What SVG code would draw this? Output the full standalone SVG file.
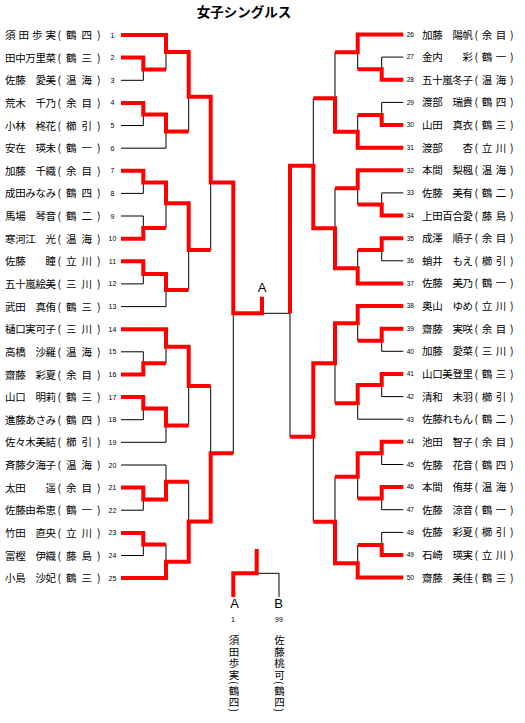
<svg xmlns="http://www.w3.org/2000/svg" width="525" height="723" viewBox="0 0 525 723">
<style>
.nm{font-family:"Noto Sans CJK JP","Noto Sans CJK SC",sans-serif;font-size:10.5px;fill:#000}
.no{font-family:"Liberation Sans",Arial,sans-serif;font-size:7px;fill:#000;text-anchor:middle}
.nr{font-family:"Liberation Sans",Arial,sans-serif;font-size:6.5px;fill:#000;text-anchor:middle}
.ttl{font-family:"Noto Sans CJK JP",sans-serif;font-size:13.5px;font-weight:bold;text-anchor:middle;fill:#000}
.lab{font-family:"Liberation Sans",Arial,sans-serif;font-size:13px;text-anchor:middle;fill:#000}
.vt{font-family:"Noto Sans CJK JP",sans-serif;font-size:10.5px;writing-mode:vertical-rl;letter-spacing:1px;fill:#000}
.r{fill:none;stroke:#f00;stroke-width:4;stroke-linejoin:miter}
.k{fill:none;stroke:#000;stroke-width:1}
</style>
<rect width="525" height="723" fill="#fff"/>
<g id="title"><text class="ttl" x="244" y="17">女子シングルス</text></g>

<g id="connectors">
<path class="k" d="M121,80.3H143.3V69.5 M166,69.5V52 M121,125.5H143.3V114.5 M121,148.2H166V131.5 M188.7,131.5V96.7 M121,193.4H143.3V182.5 M121,216H143.3V228 M166,228V203.3 M121,283.9H143.3V274 M121,306.6H166V290 M188.7,290V250 M210.7,250V182.5 M121,351.8H143.3V363.3 M166,363.3V346.7 M121,419.7H143.3V408.4 M121,442.3H166V425.5 M188.7,425.5V386 M210.7,386V453.3 M121,465H166V481.7 M121,510.2H143.3V499.5 M188.7,481.7V521.5 M121,555.5H143.3V544.5 M166,544.5V561.7 M233.3,453.3V313.3 M290,313.3H262"/>
<path class="k" d="M403.3,57.1H381.7V69.3 M357.7,69.3V52.3 M335,52.3V98.3 M403.3,102.4H381.7V115 M357.7,115V131.7 M313.3,98.3V165.7 M403.3,192.9H381.7V204.5 M357.7,204.5V188.3 M335,188.3V228.3 M403.3,260.8H381.7V250 M357.7,250V268.3 M403.3,351.3H381.7V340.7 M357.7,340.7V323.3 M403.3,396.6H381.7V385 M403.3,419.2H357.7V403.3 M335,403.3V363.3 M403.3,464.5H381.7V453.3 M403.3,509.7H381.7V498.4 M357.7,498.4V476.7 M335,476.7V521.7 M403.3,532.4H381.7V545 M357.7,545V563.3 M313.3,521.7V436.7 M290,436.7V313.3"/>
<path class="k" d="M256.7,573.3H279V597"/>
<polyline class="r" points="121,35 166,35 166,52 188.7,52 188.7,96.7 210.7,96.7 210.7,182.5 233.3,182.5 233.3,313.3 262,313.3 262,296.7"/>
<polyline class="r" points="121,57.6 143.3,57.6 143.3,69.5 166,69.5"/>
<polyline class="r" points="121,102.9 143.3,102.9 143.3,114.5 166,114.5 166,131.5 188.7,131.5"/>
<polyline class="r" points="121,170.8 143.3,170.8 143.3,182.5 166,182.5 166,203.3 188.7,203.3 188.7,250 210.7,250"/>
<polyline class="r" points="121,238.7 143.3,238.7 143.3,228 166,228"/>
<polyline class="r" points="121,261.3 143.3,261.3 143.3,274 166,274 166,290 188.7,290"/>
<polyline class="r" points="121,329.2 166,329.2 166,346.7 188.7,346.7 188.7,386 210.7,386"/>
<polyline class="r" points="121,374.5 143.3,374.5 143.3,363.3 166,363.3"/>
<polyline class="r" points="121,397.1 143.3,397.1 143.3,408.4 166,408.4 166,425.5 188.7,425.5"/>
<polyline class="r" points="121,487.6 143.3,487.6 143.3,499.5 166,499.5 166,481.7 188.7,481.7"/>
<polyline class="r" points="121,532.9 143.3,532.9 143.3,544.5 166,544.5"/>
<polyline class="r" points="121,578.1 166,578.1 166,561.7 188.7,561.7 188.7,521.5 210.7,521.5 210.7,453.3 233.3,453.3"/>
<polyline class="r" points="403.3,34.5 357.7,34.5 357.7,52.3 335,52.3"/>
<polyline class="r" points="403.3,79.8 381.7,79.8 381.7,69.3 357.7,69.3"/>
<polyline class="r" points="403.3,125 381.7,125 381.7,115 357.7,115"/>
<polyline class="r" points="403.3,147.7 357.7,147.7 357.7,131.7 335,131.7 335,98.3 313.3,98.3"/>
<polyline class="r" points="403.3,170.3 357.7,170.3 357.7,188.3 335,188.3"/>
<polyline class="r" points="403.3,215.5 381.7,215.5 381.7,204.5 357.7,204.5"/>
<polyline class="r" points="403.3,238.2 381.7,238.2 381.7,250 357.7,250"/>
<polyline class="r" points="403.3,283.4 357.7,283.4 357.7,268.3 335,268.3 335,228.3 313.3,228.3 313.3,165.7 290,165.7 290,313.3"/>
<polyline class="r" points="403.3,306.1 357.7,306.1 357.7,323.3 335,323.3 335,363.3 313.3,363.3 313.3,436.7 290,436.7"/>
<polyline class="r" points="403.3,328.7 381.7,328.7 381.7,340.7 357.7,340.7"/>
<polyline class="r" points="403.3,374 381.7,374 381.7,385 357.7,385 357.7,403.3 335,403.3"/>
<polyline class="r" points="403.3,441.8 381.7,441.8 381.7,453.3 357.7,453.3 357.7,476.7 335,476.7"/>
<polyline class="r" points="403.3,487.1 381.7,487.1 381.7,498.4 357.7,498.4"/>
<polyline class="r" points="403.3,555 381.7,555 381.7,545 357.7,545"/>
<polyline class="r" points="403.3,577.6 357.7,577.6 357.7,563.3 335,563.3 335,521.7 313.3,521.7"/>
<polyline class="r" points="256.7,549 256.7,573.3 233.3,573.3 233.3,597"/>
</g>

<g id="p1"><text class="nm" x="5" y="39" textLength="51">須田歩実</text><text class="nm" x="57.5" y="39" textLength="43">(鶴四)</text><text class="no" x="112.5" y="37.5">1</text></g>
<g id="p2"><text class="nm" x="5" y="61.6" textLength="51">田中万里菜</text><text class="nm" x="57.5" y="61.6" textLength="43">(鶴三)</text><text class="no" x="112.5" y="60.1">2</text></g>
<g id="p3"><text class="nm" x="5" y="84.3" textLength="51">佐藤　愛美</text><text class="nm" x="57.5" y="84.3" textLength="43">(温海)</text><text class="no" x="112.5" y="82.8">3</text></g>
<g id="p4"><text class="nm" x="5" y="106.9" textLength="51">荒木　千乃</text><text class="nm" x="57.5" y="106.9" textLength="43">(余目)</text><text class="no" x="112.5" y="105.4">4</text></g>
<g id="p5"><text class="nm" x="5" y="129.5" textLength="51">小林　柊花</text><text class="nm" x="57.5" y="129.5" textLength="43">(櫛引)</text><text class="no" x="112.5" y="128">5</text></g>
<g id="p6"><text class="nm" x="5" y="152.2" textLength="51">安在　瑛未</text><text class="nm" x="57.5" y="152.2" textLength="43">(鶴一)</text><text class="no" x="112.5" y="150.7">6</text></g>
<g id="p7"><text class="nm" x="5" y="174.8" textLength="51">加藤　千織</text><text class="nm" x="57.5" y="174.8" textLength="43">(余目)</text><text class="no" x="112.5" y="173.3">7</text></g>
<g id="p8"><text class="nm" x="5" y="197.4" textLength="51">成田みなみ</text><text class="nm" x="57.5" y="197.4" textLength="43">(鶴四)</text><text class="no" x="112.5" y="195.9">8</text></g>
<g id="p9"><text class="nm" x="5" y="220" textLength="51">馬場　琴音</text><text class="nm" x="57.5" y="220" textLength="43">(鶴二)</text><text class="no" x="112.5" y="218.5">9</text></g>
<g id="p10"><text class="nm" x="5" y="242.7" textLength="51">寒河江　光</text><text class="nm" x="57.5" y="242.7" textLength="43">(温海)</text><text class="no" x="112.5" y="241.2">10</text></g>
<g id="p11"><text class="nm" x="5" y="265.3" textLength="51">佐藤　　瞳</text><text class="nm" x="57.5" y="265.3" textLength="43">(立川)</text><text class="no" x="112.5" y="263.8">11</text></g>
<g id="p12"><text class="nm" x="5" y="287.9" textLength="51">五十嵐絵美</text><text class="nm" x="57.5" y="287.9" textLength="43">(三川)</text><text class="no" x="112.5" y="286.4">12</text></g>
<g id="p13"><text class="nm" x="5" y="310.6" textLength="51">武田　真侑</text><text class="nm" x="57.5" y="310.6" textLength="43">(鶴三)</text><text class="no" x="112.5" y="309.1">13</text></g>
<g id="p14"><text class="nm" x="5" y="333.2" textLength="51">樋口実可子</text><text class="nm" x="57.5" y="333.2" textLength="43">(三川)</text><text class="no" x="112.5" y="331.7">14</text></g>
<g id="p15"><text class="nm" x="5" y="355.8" textLength="51">高橋　沙羅</text><text class="nm" x="57.5" y="355.8" textLength="43">(温海)</text><text class="no" x="112.5" y="354.3">15</text></g>
<g id="p16"><text class="nm" x="5" y="378.5" textLength="51">齋藤　彩夏</text><text class="nm" x="57.5" y="378.5" textLength="43">(余目)</text><text class="no" x="112.5" y="377">16</text></g>
<g id="p17"><text class="nm" x="5" y="401.1" textLength="51">山口　明莉</text><text class="nm" x="57.5" y="401.1" textLength="43">(鶴三)</text><text class="no" x="112.5" y="399.6">17</text></g>
<g id="p18"><text class="nm" x="5" y="423.7" textLength="51">進藤あさみ</text><text class="nm" x="57.5" y="423.7" textLength="43">(鶴四)</text><text class="no" x="112.5" y="422.2">18</text></g>
<g id="p19"><text class="nm" x="5" y="446.3" textLength="51">佐々木美結</text><text class="nm" x="57.5" y="446.3" textLength="43">(櫛引)</text><text class="no" x="112.5" y="444.8">19</text></g>
<g id="p20"><text class="nm" x="5" y="469" textLength="51">斉藤夕海子</text><text class="nm" x="57.5" y="469" textLength="43">(温海)</text><text class="no" x="112.5" y="467.5">20</text></g>
<g id="p21"><text class="nm" x="5" y="491.6" textLength="51">太田　　遥</text><text class="nm" x="57.5" y="491.6" textLength="43">(余目)</text><text class="no" x="112.5" y="490.1">21</text></g>
<g id="p22"><text class="nm" x="5" y="514.2" textLength="51">佐藤由希恵</text><text class="nm" x="57.5" y="514.2" textLength="43">(鶴一)</text><text class="no" x="112.5" y="512.7">22</text></g>
<g id="p23"><text class="nm" x="5" y="536.9" textLength="51">竹田　直央</text><text class="nm" x="57.5" y="536.9" textLength="43">(立川)</text><text class="no" x="112.5" y="535.4">23</text></g>
<g id="p24"><text class="nm" x="5" y="559.5" textLength="51">富樫　伊織</text><text class="nm" x="57.5" y="559.5" textLength="43">(藤島)</text><text class="no" x="112.5" y="558">24</text></g>
<g id="p25"><text class="nm" x="5" y="582.1" textLength="51">小島　沙妃</text><text class="nm" x="57.5" y="582.1" textLength="43">(鶴三)</text><text class="no" x="112.5" y="580.6">25</text></g>

<g id="p26"><text class="nr" x="410.3" y="36.8">26</text><text class="nm" x="422" y="38.5" textLength="51">加藤　陽帆</text><text class="nm" x="474.5" y="38.5" textLength="39">(余目)</text></g>
<g id="p27"><text class="nr" x="410.3" y="59.4">27</text><text class="nm" x="422" y="61.1" textLength="51">金内　　彩</text><text class="nm" x="474.5" y="61.1" textLength="39">(鶴一)</text></g>
<g id="p28"><text class="nr" x="410.3" y="82.1">28</text><text class="nm" x="422" y="83.8" textLength="51">五十嵐冬子</text><text class="nm" x="474.5" y="83.8" textLength="39">(温海)</text></g>
<g id="p29"><text class="nr" x="410.3" y="104.7">29</text><text class="nm" x="422" y="106.4" textLength="51">渡部　瑞貴</text><text class="nm" x="474.5" y="106.4" textLength="39">(鶴四)</text></g>
<g id="p30"><text class="nr" x="410.3" y="127.3">30</text><text class="nm" x="422" y="129" textLength="51">山田　真衣</text><text class="nm" x="474.5" y="129" textLength="39">(鶴三)</text></g>
<g id="p31"><text class="nr" x="410.3" y="150">31</text><text class="nm" x="422" y="151.7" textLength="51">渡部　　杏</text><text class="nm" x="474.5" y="151.7" textLength="39">(立川)</text></g>
<g id="p32"><text class="nr" x="410.3" y="172.6">32</text><text class="nm" x="422" y="174.3" textLength="51">本間　梨楓</text><text class="nm" x="474.5" y="174.3" textLength="39">(温海)</text></g>
<g id="p33"><text class="nr" x="410.3" y="195.2">33</text><text class="nm" x="422" y="196.9" textLength="51">佐藤　美有</text><text class="nm" x="474.5" y="196.9" textLength="39">(鶴二)</text></g>
<g id="p34"><text class="nr" x="410.3" y="217.8">34</text><text class="nm" x="422" y="219.5" textLength="51">上田百合愛</text><text class="nm" x="474.5" y="219.5" textLength="39">(藤島)</text></g>
<g id="p35"><text class="nr" x="410.3" y="240.5">35</text><text class="nm" x="422" y="242.2" textLength="51">成澤　順子</text><text class="nm" x="474.5" y="242.2" textLength="39">(余目)</text></g>
<g id="p36"><text class="nr" x="410.3" y="263.1">36</text><text class="nm" x="422" y="264.8" textLength="51">蛸井　もえ</text><text class="nm" x="474.5" y="264.8" textLength="39">(櫛引)</text></g>
<g id="p37"><text class="nr" x="410.3" y="285.7">37</text><text class="nm" x="422" y="287.4" textLength="51">佐藤　美乃</text><text class="nm" x="474.5" y="287.4" textLength="39">(鶴一)</text></g>
<g id="p38"><text class="nr" x="410.3" y="308.4">38</text><text class="nm" x="422" y="310.1" textLength="51">奥山　ゆめ</text><text class="nm" x="474.5" y="310.1" textLength="39">(立川)</text></g>
<g id="p39"><text class="nr" x="410.3" y="331">39</text><text class="nm" x="422" y="332.7" textLength="51">齋藤　実咲</text><text class="nm" x="474.5" y="332.7" textLength="39">(余目)</text></g>
<g id="p40"><text class="nr" x="410.3" y="353.6">40</text><text class="nm" x="422" y="355.3" textLength="51">加藤　愛菜</text><text class="nm" x="474.5" y="355.3" textLength="39">(三川)</text></g>
<g id="p41"><text class="nr" x="410.3" y="376.3">41</text><text class="nm" x="422" y="378" textLength="51">山口美登里</text><text class="nm" x="474.5" y="378" textLength="39">(鶴三)</text></g>
<g id="p42"><text class="nr" x="410.3" y="398.9">42</text><text class="nm" x="422" y="400.6" textLength="51">清和　未羽</text><text class="nm" x="474.5" y="400.6" textLength="39">(櫛引)</text></g>
<g id="p43"><text class="nr" x="410.3" y="421.5">43</text><text class="nm" x="422" y="423.2" textLength="51">佐藤れもん</text><text class="nm" x="474.5" y="423.2" textLength="39">(鶴二)</text></g>
<g id="p44"><text class="nr" x="410.3" y="444.1">44</text><text class="nm" x="422" y="445.8" textLength="51">池田　智子</text><text class="nm" x="474.5" y="445.8" textLength="39">(余目)</text></g>
<g id="p45"><text class="nr" x="410.3" y="466.8">45</text><text class="nm" x="422" y="468.5" textLength="51">佐藤　花音</text><text class="nm" x="474.5" y="468.5" textLength="39">(鶴四)</text></g>
<g id="p46"><text class="nr" x="410.3" y="489.4">46</text><text class="nm" x="422" y="491.1" textLength="51">本間　侑芽</text><text class="nm" x="474.5" y="491.1" textLength="39">(温海)</text></g>
<g id="p47"><text class="nr" x="410.3" y="512">47</text><text class="nm" x="422" y="513.7" textLength="51">佐藤　涼音</text><text class="nm" x="474.5" y="513.7" textLength="39">(鶴一)</text></g>
<g id="p48"><text class="nr" x="410.3" y="534.7">48</text><text class="nm" x="422" y="536.4" textLength="51">佐藤　彩夏</text><text class="nm" x="474.5" y="536.4" textLength="39">(櫛引)</text></g>
<g id="p49"><text class="nr" x="410.3" y="557.3">49</text><text class="nm" x="422" y="559" textLength="51">石崎　瑛実</text><text class="nm" x="474.5" y="559" textLength="39">(立川)</text></g>
<g id="p50"><text class="nr" x="410.3" y="579.9">50</text><text class="nm" x="422" y="581.6" textLength="51">齋藤　美佳</text><text class="nm" x="474.5" y="581.6" textLength="39">(鶴三)</text></g>

<g id="champion-A"><text class="lab" x="262" y="292">A</text></g>
<g id="final-A"><text class="lab" x="234.5" y="607.5">A</text><text class="no" x="233" y="622">1</text><text class="vt" x="234" y="635">須田歩実(鶴四)</text></g>
<g id="final-B"><text class="lab" x="278.5" y="607.5">B</text><text class="no" x="279" y="622">99</text><text class="vt" x="279.5" y="635">佐藤桃可(鶴四)</text></g>
</svg>
